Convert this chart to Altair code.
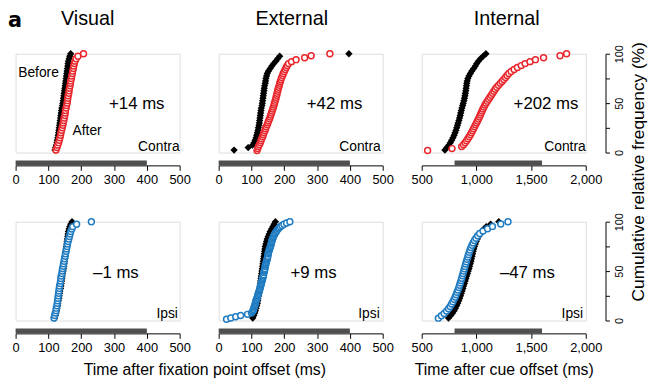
import altair as alt
import pandas as pd

FONT = "Liberation Sans"
RED = "#e8262c"
BLUE = "#1f7bc1"
BAR_GRAY = "#4f4f4f"

# ---------------- data ----------------
col_titles = ["Visual", "External", "Internal"]
side_labels = ["Contra", "Ipsi"]
diff_labels_top = ["+14 ms", "+42 ms", "+202 ms"]
diff_labels_bottom = ["\u20131 ms", "+9 ms", "\u201347 ms"]
x_domains = [[0, 500], [0, 500], [500, 2000]]
x_ticks = [[0, 100, 200, 300, 400, 500], [0, 100, 200, 300, 400, 500], [500, 1000, 1500, 2000]]
bar_start = [0, 0, 800]
bar_end = [400, 400, 1600]
y_ticks = [0, 25, 50, 75, 100]
x_title_left = "Time after fixation point offset (ms)"
x_title_right = "Time after cue offset (ms)"
y_title = "Cumulative relative frequency (%)"

# reaction times (ms); percentiles are computed by the chart
visual_contra_before = [120, 122, 124, 126, 127, 129, 130, 131, 132, 133, 134, 135, 136, 137, 138,
                        139, 140, 141, 143, 144, 145, 146, 147, 148, 149, 150, 151, 152, 153, 154,
                        155, 156, 157, 158, 159, 160, 161, 163, 165, 168]
visual_contra_after = [123, 126, 128, 131, 133, 135, 137, 138, 140, 142, 144, 145, 147, 148, 150,
                       151, 152, 154, 155, 157, 158, 159, 160, 162, 163, 164, 166, 167, 168, 170,
                       171, 173, 174, 176, 177, 179, 181, 184, 190, 207]
external_contra_before = [47, 90, 103, 108, 111, 114, 116, 118, 120, 121, 123, 124, 125, 126, 127,
                          128, 129, 130, 132, 133, 134, 135, 136, 137, 138, 139, 140, 142, 143, 144,
                          146, 148, 152, 157, 162, 168, 174, 180, 186, 397]
external_contra_after = [117, 119, 121, 124, 127, 129, 131, 134, 136, 138, 141, 143, 145, 148, 150,
                         152, 155, 157, 159, 161, 163, 165, 167, 169, 170, 172, 174, 175, 177, 178,
                         180, 181, 183, 185, 186, 188, 190, 192, 195, 197, 200, 203, 206, 209, 213,
                         222, 236, 262, 282, 339]
internal_contra_before = [712, 730, 748, 762, 774, 786, 796, 805, 813, 820, 827, 833, 840, 846, 852,
                          857, 862, 868, 874, 880, 886, 891, 895, 899, 903, 906, 909, 912, 916, 922,
                          932, 945, 958, 975, 990, 1003, 1018, 1038, 1062, 1087]
internal_contra_after = [554, 777, 865, 882, 897, 910, 922, 934, 945, 955, 965, 974, 983, 992, 1001,
                         1010, 1019, 1028, 1036, 1044, 1052, 1060, 1069, 1078, 1088, 1100, 1112, 1124,
                         1136, 1148, 1160, 1172, 1186, 1202, 1218, 1234, 1250, 1266, 1280, 1296, 1318,
                         1345, 1375, 1410, 1445, 1490, 1540, 1614, 1765, 1825]
visual_ipsi_before = [119, 121, 123, 125, 126, 128, 129, 130, 132, 133, 134, 135, 137, 138, 139,
                      140, 141, 142, 143, 145, 146, 147, 148, 149, 150, 151, 152, 153, 154, 155,
                      156, 157, 158, 159, 160, 161, 163, 165, 168, 172]
visual_ipsi_after = [117, 119, 121, 123, 124, 126, 127, 128, 129, 130, 131, 132, 133, 134, 136,
                     137, 138, 139, 141, 142, 143, 145, 146, 148, 149, 151, 152, 154, 155, 157,
                     158, 160, 162, 164, 166, 168, 171, 174, 186, 231]
external_ipsi_before = [104, 107, 110, 112, 114, 116, 118, 119, 120, 122, 123, 124, 125, 126, 127,
                        128, 129, 130, 131, 132, 133, 134, 135, 136, 137, 138, 139, 140, 141, 142,
                        144, 146, 148, 151, 154, 157, 161, 165, 169, 173]
external_ipsi_after = [24, 37, 52, 67, 88,
                       100, 103, 105, 106, 107, 109, 110, 111, 112, 113, 114, 115, 117, 118, 119,
                       120, 121, 122, 124, 125, 126, 127, 128, 129, 130, 131, 132, 133, 134, 135,
                       136, 137, 138, 138, 139, 140, 141, 142, 142, 143, 144, 145, 146, 147, 148,
                       149, 150, 151, 151, 152, 153, 154, 155, 157, 158, 159, 160, 161, 162, 163,
                       164, 166, 167, 169, 171, 173, 176, 178, 181, 184, 188, 193, 199, 207, 217]
internal_ipsi_before = [745, 765, 782, 796, 808, 819, 829, 838, 847, 855, 862, 869, 876, 883, 890,
                        897, 904, 911, 918, 925, 932, 938, 944, 950, 955, 960, 965, 970, 976, 982,
                        990, 998, 1008, 1020, 1034, 1050, 1068, 1090, 1130, 1205]
internal_ipsi_after = [652, 680, 705, 727, 745, 760, 773, 785, 796, 806, 815, 823, 831, 839, 846,
                       853, 860, 866, 872, 878, 884, 890, 896, 902, 908, 914, 921, 928, 935, 942,
                       950, 960, 970, 982, 996, 1012, 1030, 1060, 1102, 1147, 1223, 1289]

before_series = [[visual_contra_before, external_contra_before, internal_contra_before],
                 [visual_ipsi_before, external_ipsi_before, internal_ipsi_before]]
after_series = [[visual_contra_after, external_contra_after, internal_contra_after],
                [visual_ipsi_after, external_ipsi_after, internal_ipsi_after]]
after_colors = [RED, BLUE]
diff_labels = [diff_labels_top, diff_labels_bottom]

# ---------------- layout (pixels, relative to each panel) ----------------
W, H = 166, 100
diff_x = [[122.6, 117.3, 125.8], [101.5, 96.0, 107.0]]
diff_y = [56.3, 57.0]
side_x = [[166, 164, 166], [164.3, 163, 163.3]]
side_y = [98.0, 97.5]
title_x = [73, 74, 86]
title_y = -29.5


def ecdf_layer(values, mark, xenc, yenc):
    return (
        alt.Chart(pd.DataFrame({"t": values}))
        .transform_window(cd="cume_dist()", sort=[alt.SortField("t", order="ascending")])
        .transform_calculate(pct="datum.cd * 100")
        .mark_point(**mark)
        .encode(x=xenc, y=yenc)
    )


def text_layer(label, x, y, size=14, align="left", font=FONT, weight="normal"):
    return (
        alt.Chart(pd.DataFrame({"label": [label]}))
        .mark_text(font=font, fontSize=size, align=align, baseline="alphabetic",
                   color="black", fontWeight=weight)
        .encode(text="label:N", x=alt.value(x), y=alt.value(y))
    )


def panel(r, c):
    xs = alt.Scale(domain=x_domains[c], nice=False, zero=False)
    ys = alt.Scale(domain=[0, 100], nice=False)
    xa = dict(values=x_ticks[c], format=",d", offset=13, tickSize=5, labelPadding=3,
              domainColor="black", tickColor="black", labelColor="black", labelFont=FONT,
              labelFontSize=13, grid=False, labelFlush=False, labelOverlap=False,
              domainWidth=1, tickWidth=1)
    xtitle = None
    if r == 1 and c == 0:
        xtitle = x_title_left
        xa.update(titleX=191, titleY=41.5, titleAlign="center", titleBaseline="alphabetic",
                  titleFont=FONT, titleFontSize=16, titleFontWeight="normal", titleColor="black")
    elif r == 1 and c == 2:
        xtitle = x_title_right
        xa.update(titleX=83, titleY=41.5, titleAlign="center", titleBaseline="alphabetic",
                  titleFont=FONT, titleFontSize=16, titleFontWeight="normal", titleColor="black")
    xaxis = alt.Axis(**xa)

    ytitle = None
    if c == 2:
        ya = dict(orient="right", offset=20, values=y_ticks,
                  labelExpr="datum.value % 50 === 0 ? datum.label : ''",
                  labelAngle=270, labelAlign="center", labelBaseline="top", labelPadding=4.5,
                  tickSize=4, domainColor="black", tickColor="black", labelColor="black",
                  labelFont=FONT, labelFontSize=11, grid=False, labelFlush=False)
        if r == 0:
            ytitle = y_title
            ya.update(titleAngle=270, titleX=38.5, titleY=119, titleAlign="center",
                      titleBaseline="alphabetic", titleFont=FONT, titleFontSize=17.5,
                      titleFontWeight="normal", titleColor="black")
        yaxis = alt.Axis(**ya)
    else:
        yaxis = None

    xenc_t = alt.X("t:Q", scale=xs, axis=xaxis, title=xtitle)
    yenc = alt.Y("pct:Q", scale=ys, axis=yaxis, title=ytitle)

    bar = (
        alt.Chart(pd.DataFrame({"start": [bar_start[c]], "end": [bar_end[c]]}))
        .mark_rect(color=BAR_GRAY)
        .encode(x=alt.X("start:Q", scale=xs, axis=xaxis, title=xtitle), x2="end:Q",
                y=alt.value(108), y2=alt.value(113))
    )
    black = ecdf_layer(before_series[r][c],
                       dict(shape="diamond", filled=True, color="black", size=55, opacity=1),
                       xenc_t, yenc)
    colored = ecdf_layer(after_series[r][c],
                         dict(shape="circle", filled=True, fill="white", stroke=after_colors[r],
                              strokeWidth=1.5, size=36, opacity=1),
                         xenc_t, yenc)
    layers = [bar, black, colored,
              text_layer(diff_labels[r][c], diff_x[r][c], diff_y[r], size=17, align="center"),
              text_layer(side_labels[r], side_x[r][c], side_y[r], size=14, align="right")]
    if r == 0:
        layers.append(text_layer(col_titles[c], title_x[c], title_y, size=20, align="center"))
    if r == 0 and c == 0:
        layers.append(text_layer("Before", 2.6, 24, size=14))
        layers.append(text_layer("After", 57.6, 82.3, size=14))
        layers.append(text_layer("a", -7.7, -27.5, size=21, font="DejaVu Sans", weight="bold"))
    return alt.layer(*layers).properties(width=W, height=H)


panels = [panel(r, c) for r in range(2) for c in range(3)]

chart = (
    alt.concat(*panels, columns=3, spacing=alt.RowColnumber(row=70, column=39.5), bounds="flush")
    .properties(autosize=alt.AutoSizeParams(type="none"),
                padding={"left": 7.7, "top": 44, "right": 640, "bottom": 335})
    .configure_view(stroke=None)
    .configure(font=FONT)
)

chart.save("out.html", embed_options={"renderer": "svg", "actions": False})
